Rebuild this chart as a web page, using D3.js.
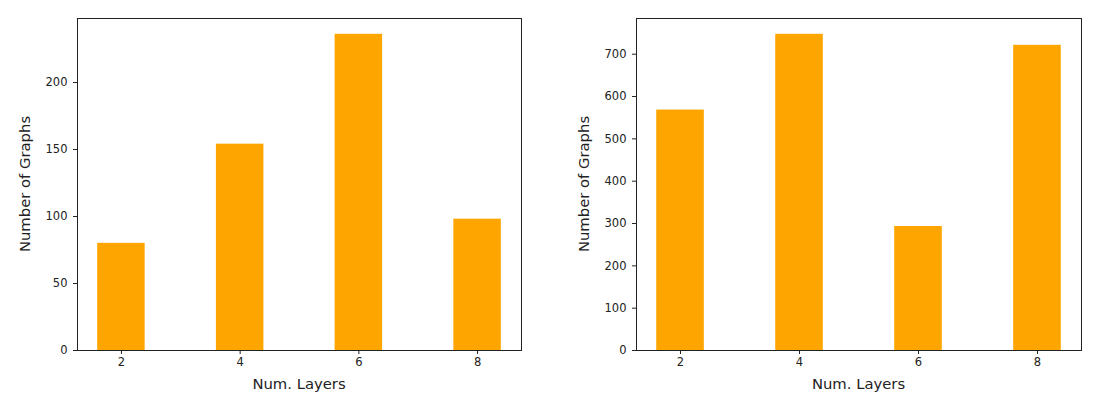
<!DOCTYPE html>
<html>
<head>
<meta charset="utf-8">
<script src="https://cdn.jsdelivr.net/npm/d3@7"></script>
<style>
  html, body { margin: 0; padding: 0; background: #fff; }
  svg { display: block; font-family: "DejaVu Sans", sans-serif; }
</style>
</head>
<body>
<svg id="chart" width="1104" height="412"></svg>
<script>
// Data
const layers = [2, 4, 6, 8];
const graphsLeft = [80, 154, 236, 98];
const graphsRight = [568, 747, 293, 721];
const xTicks = [2, 4, 6, 8];
const yTicksLeft = [0, 50, 100, 150, 200];
const yTicksRight = [0, 100, 200, 300, 400, 500, 600, 700];
const xLabel = "Num. Layers";
const yLabel = "Number of Graphs";

const svg = d3.select("#chart");
const barWidth = 0.8;

function panel(left, right, values, yTicks) {
  const top = 18, bottom = 350;
  const g = svg.append("g");
  const xmin = d3.min(layers) - barWidth / 2, xmax = d3.max(layers) + barWidth / 2;
  const pad = (xmax - xmin) * 0.05;
  const x = d3.scaleLinear().domain([xmin - pad, xmax + pad]).range([left, right]);
  const y = d3.scaleLinear().domain([0, d3.max(values) * 1.05]).range([bottom, top]);

  g.selectAll("rect.bar").data(values).enter().append("rect")
    .attr("class", "bar")
    .attr("x", (d, i) => x(layers[i] - barWidth / 2))
    .attr("width", (d, i) => x(layers[i] + barWidth / 2) - x(layers[i] - barWidth / 2))
    .attr("y", d => y(d))
    .attr("height", d => y(0) - y(d))
    .attr("fill", "#FFA500");

  // frame
  g.append("rect").attr("x", left).attr("y", top)
    .attr("width", right - left).attr("height", bottom - top)
    .attr("fill", "none").attr("stroke", "#222").attr("stroke-width", 1)
    .attr("shape-rendering", "crispEdges");

  const xAxis = g.append("g").attr("transform", `translate(0,${bottom})`)
    .call(d3.axisBottom(x).tickValues(xTicks).tickSize(4).tickPadding(4).tickFormat(d3.format("d")));
  const yAxis = g.append("g").attr("transform", `translate(${left},0)`)
    .call(d3.axisLeft(y).tickValues(yTicks).tickSize(4).tickPadding(5.5).tickFormat(d3.format("d")));
  [xAxis, yAxis].forEach(a => {
    a.select(".domain").remove();
    a.selectAll("line").attr("stroke", "#222");
    a.selectAll("text").attr("fill", "#222").style("font-size", "11.5px")
      .style("font-family", "'DejaVu Sans', sans-serif");
  });

  g.append("text").attr("x", (left + right) / 2).attr("y", 389)
    .attr("text-anchor", "middle").attr("fill", "#222")
    .style("font-size", "14.8px").text(xLabel);
  g.append("text")
    .attr("transform", `translate(${left - 47},${(top + bottom) / 2}) rotate(-90)`)
    .attr("text-anchor", "middle").attr("fill", "#222")
    .style("font-size", "14.8px").text(yLabel);
}

panel(77, 521, graphsLeft, yTicksLeft);
panel(636, 1081, graphsRight, yTicksRight);
</script>
</body>
</html>
